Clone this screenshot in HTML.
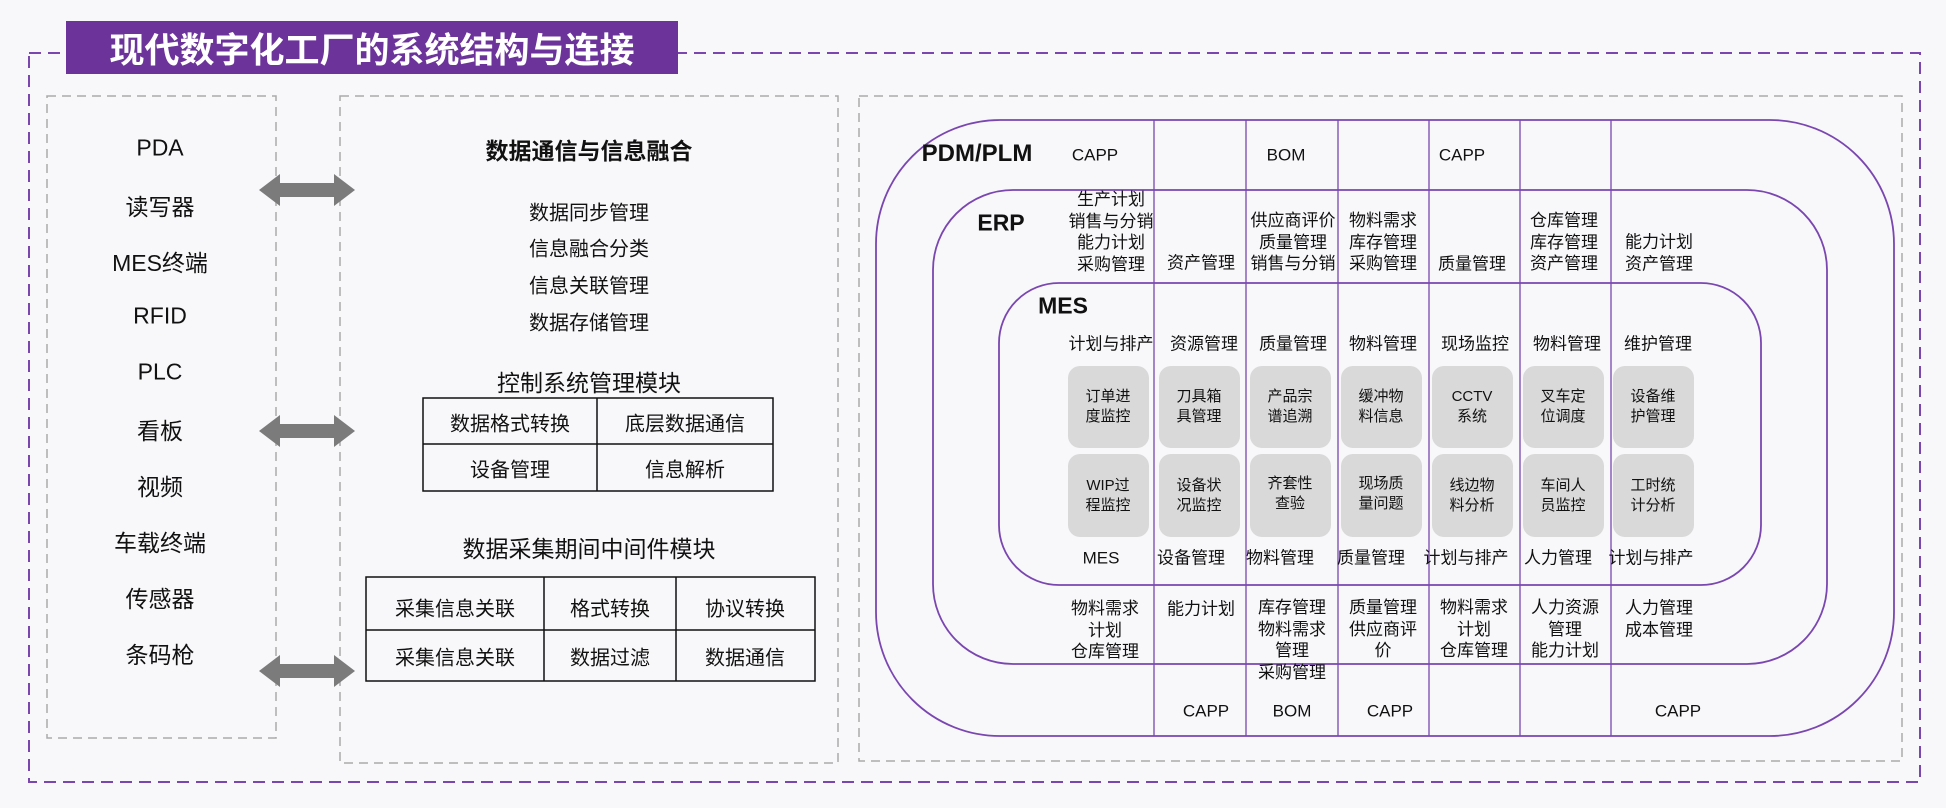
<!DOCTYPE html>
<html><head><meta charset="utf-8"><style>
body{margin:0;width:1946px;height:808px;background:#f8f8fb;overflow:hidden;position:relative;font-family:"Liberation Sans","Noto Sans CJK SC",sans-serif;color:#111}
.t{position:absolute;transform:translate(-50%,-50%);white-space:nowrap;text-align:center}
.l{font-size:23px}
.m{font-size:20px}
.e{font-size:17px;line-height:21.5px}
.b{font-size:15px;line-height:20px}
.h{font-weight:bold}
</style></head><body>
<svg width="1946" height="808" style="position:absolute;left:0;top:0">
<rect x="29" y="53" width="1891" height="729" fill="none" stroke="#7a46b0" stroke-width="2" stroke-dasharray="12,7"/>
<rect x="47" y="96" width="229" height="642" fill="none" stroke="#aaa" stroke-width="1.5" stroke-dasharray="9,6"/>
<rect x="340" y="96" width="498" height="667" fill="none" stroke="#aaa" stroke-width="1.5" stroke-dasharray="9,6"/>
<rect x="859" y="96" width="1043" height="665" fill="none" stroke="#aaa" stroke-width="1.5" stroke-dasharray="9,6"/>
<g fill="#7b7b7b">
<polygon points="259,190 280,174 280,183 334,183 334,174 355,190 334,206 334,197 280,197 280,206"/>
<polygon points="259,431 280,415 280,424 334,424 334,415 355,431 334,447 334,438 280,438 280,447"/>
<polygon points="259,671 280,655 280,664 334,664 334,655 355,671 334,687 334,678 280,678 280,687"/>
</g>
<g fill="none" stroke="#111" stroke-width="1.5">
<rect x="423" y="398" width="350" height="93"/><line x1="423" y1="444" x2="773" y2="444"/><line x1="597" y1="398" x2="597" y2="491"/>
<rect x="366" y="577" width="449" height="104"/><line x1="366" y1="630" x2="815" y2="630"/><line x1="544" y1="577" x2="544" y2="681"/><line x1="676" y1="577" x2="676" y2="681"/>
</g>
<g fill="none" stroke="#7a46b0" stroke-width="1.8">
<rect x="876" y="120" width="1018" height="616" rx="124"/>
<rect x="933" y="190" width="894" height="474" rx="80"/>
<rect x="999" y="283" width="762" height="302" rx="60"/>
</g>
<g stroke="#7a46b0" stroke-width="1.3">
<line x1="1154" y1="120" x2="1154" y2="736"/><line x1="1246" y1="120" x2="1246" y2="736"/><line x1="1338" y1="120" x2="1338" y2="736"/>
<line x1="1429" y1="120" x2="1429" y2="736"/><line x1="1520" y1="120" x2="1520" y2="736"/><line x1="1611" y1="120" x2="1611" y2="736"/>
</g>
<g fill="#d9d9d9">
<rect x="1068" y="366" width="81" height="82" rx="12"/><rect x="1159" y="366" width="81" height="82" rx="12"/><rect x="1250" y="366" width="81" height="82" rx="12"/><rect x="1341" y="366" width="81" height="82" rx="12"/><rect x="1432" y="366" width="81" height="82" rx="12"/><rect x="1523" y="366" width="81" height="82" rx="12"/><rect x="1613" y="366" width="81" height="82" rx="12"/>
<rect x="1068" y="454" width="81" height="83" rx="12"/><rect x="1159" y="454" width="81" height="83" rx="12"/><rect x="1250" y="454" width="81" height="83" rx="12"/><rect x="1341" y="454" width="81" height="83" rx="12"/><rect x="1432" y="454" width="81" height="83" rx="12"/><rect x="1523" y="454" width="81" height="83" rx="12"/><rect x="1613" y="454" width="81" height="83" rx="12"/>
</g>
</svg>
<div style="position:absolute;left:66px;top:21px;width:612px;height:53px;background:#6c339a"></div>
<div class="t h" style="left:372px;top:48px;font-size:35px;color:#fff">现代数字化工厂的系统结构与连接</div>

<div class="t l" style="left:160px;top:148px">PDA</div>
<div class="t l" style="left:160px;top:205px">读写器</div>
<div class="t l" style="left:160px;top:261px">MES终端</div>
<div class="t l" style="left:160px;top:316px">RFID</div>
<div class="t l" style="left:160px;top:372px">PLC</div>
<div class="t l" style="left:160px;top:429px">看板</div>
<div class="t l" style="left:160px;top:485px">视频</div>
<div class="t l" style="left:160px;top:541px">车载终端</div>
<div class="t l" style="left:160px;top:597px">传感器</div>
<div class="t l" style="left:160px;top:653px">条码枪</div>

<div class="t l h" style="left:589px;top:149px">数据通信与信息融合</div>
<div class="t m" style="left:589px;top:211px">数据同步管理</div>
<div class="t m" style="left:589px;top:247px">信息融合分类</div>
<div class="t m" style="left:589px;top:284px">信息关联管理</div>
<div class="t m" style="left:589px;top:321px">数据存储管理</div>
<div class="t l" style="left:589px;top:381px">控制系统管理模块</div>
<div class="t m" style="left:510px;top:422px">数据格式转换</div>
<div class="t m" style="left:685px;top:422px">底层数据通信</div>
<div class="t m" style="left:510px;top:468px">设备管理</div>
<div class="t m" style="left:685px;top:468px">信息解析</div>
<div class="t l" style="left:589px;top:547px">数据采集期间中间件模块</div>
<div class="t m" style="left:455px;top:607px">采集信息关联</div>
<div class="t m" style="left:610px;top:607px">格式转换</div>
<div class="t m" style="left:745px;top:607px">协议转换</div>
<div class="t m" style="left:455px;top:656px">采集信息关联</div>
<div class="t m" style="left:610px;top:656px">数据过滤</div>
<div class="t m" style="left:745px;top:656px">数据通信</div>

<div class="t h" style="left:977px;top:154px;font-size:24px">PDM/PLM</div>
<div class="t e" style="left:1095px;top:155px">CAPP</div>
<div class="t e" style="left:1286px;top:155px">BOM</div>
<div class="t e" style="left:1462px;top:155px">CAPP</div>
<div class="t h" style="left:1001px;top:223px;font-size:23px">ERP</div>
<div class="t e" style="left:1111px;top:232px">生产计划<br>销售与分销<br>能力计划<br>采购管理</div>
<div class="t e" style="left:1201px;top:263px">资产管理</div>
<div class="t e" style="left:1293px;top:242px">供应商评价<br>质量管理<br>销售与分销</div>
<div class="t e" style="left:1383px;top:242px">物料需求<br>库存管理<br>采购管理</div>
<div class="t e" style="left:1472px;top:264px">质量管理</div>
<div class="t e" style="left:1564px;top:242px">仓库管理<br>库存管理<br>资产管理</div>
<div class="t e" style="left:1659px;top:253px">能力计划<br>资产管理</div>
<div class="t h" style="left:1063px;top:306px;font-size:23px">MES</div>
<div class="t e" style="left:1111px;top:344px">计划与排产</div>
<div class="t e" style="left:1204px;top:344px">资源管理</div>
<div class="t e" style="left:1293px;top:344px">质量管理</div>
<div class="t e" style="left:1383px;top:344px">物料管理</div>
<div class="t e" style="left:1475px;top:344px">现场监控</div>
<div class="t e" style="left:1567px;top:344px">物料管理</div>
<div class="t e" style="left:1658px;top:344px">维护管理</div>
<div class="t b" style="left:1108px;top:407px">订单进<br>度监控</div>
<div class="t b" style="left:1199px;top:407px">刀具箱<br>具管理</div>
<div class="t b" style="left:1290px;top:407px">产品宗<br>谱追溯</div>
<div class="t b" style="left:1381px;top:407px">缓冲物<br>料信息</div>
<div class="t b" style="left:1472px;top:407px">CCTV<br>系统</div>
<div class="t b" style="left:1563px;top:407px">叉车定<br>位调度</div>
<div class="t b" style="left:1653px;top:407px">设备维<br>护管理</div>
<div class="t b" style="left:1108px;top:496px">WIP过<br>程监控</div>
<div class="t b" style="left:1199px;top:496px">设备状<br>况监控</div>
<div class="t b" style="left:1290px;top:494px">齐套性<br>查验</div>
<div class="t b" style="left:1381px;top:494px">现场质<br>量问题</div>
<div class="t b" style="left:1472px;top:496px">线边物<br>料分析</div>
<div class="t b" style="left:1563px;top:496px">车间人<br>员监控</div>
<div class="t b" style="left:1653px;top:496px">工时统<br>计分析</div>
<div class="t e" style="left:1101px;top:558px">MES</div>
<div class="t e" style="left:1191px;top:558px">设备管理</div>
<div class="t e" style="left:1280px;top:558px">物料管理</div>
<div class="t e" style="left:1371px;top:558px">质量管理</div>
<div class="t e" style="left:1466px;top:558px">计划与排产</div>
<div class="t e" style="left:1558px;top:558px">人力管理</div>
<div class="t e" style="left:1651px;top:558px">计划与排产</div>
<div class="t e" style="left:1105px;top:630px">物料需求<br>计划<br>仓库管理</div>
<div class="t e" style="left:1201px;top:609px">能力计划</div>
<div class="t e" style="left:1292px;top:640px">库存管理<br>物料需求<br>管理<br>采购管理</div>
<div class="t e" style="left:1383px;top:629px">质量管理<br>供应商评<br>价</div>
<div class="t e" style="left:1474px;top:629px">物料需求<br>计划<br>仓库管理</div>
<div class="t e" style="left:1565px;top:629px">人力资源<br>管理<br>能力计划</div>
<div class="t e" style="left:1659px;top:619px">人力管理<br>成本管理</div>
<div class="t e" style="left:1206px;top:711px">CAPP</div>
<div class="t e" style="left:1292px;top:711px">BOM</div>
<div class="t e" style="left:1390px;top:711px">CAPP</div>
<div class="t e" style="left:1678px;top:711px">CAPP</div>
</body></html>
